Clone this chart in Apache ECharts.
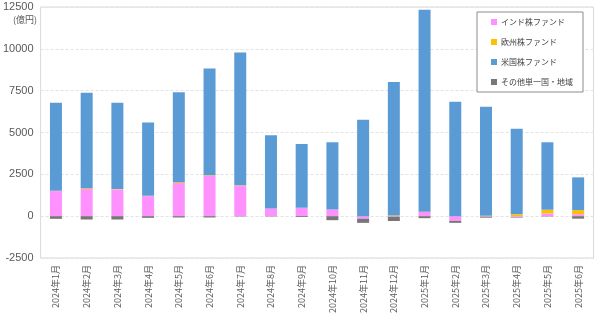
<!DOCTYPE html>
<html>
<head>
<meta charset="utf-8">
<script src="https://cdn.jsdelivr.net/npm/echarts@6/dist/echarts.min.js"></script>
<style>
  html, body { margin: 0; padding: 0; background: #fff; }
  #chart { width: 600px; height: 324px; }
</style>
</head>
<body>
<div id="chart"></div>
<script>
// Monthly net fund flows by region (億円)
const months = [
  '2024年1月', '2024年2月', '2024年3月', '2024年4月', '2024年5月', '2024年6月',
  '2024年7月', '2024年8月', '2024年9月', '2024年10月', '2024年11月', '2024年12月',
  '2025年1月', '2025年2月', '2025年3月', '2025年4月', '2025年5月', '2025年6月'
];
const india  = [1500, 1620, 1600, 1200, 1980, 2420, 1820, 460, 500, 400, -150, -30, 250, -280, -30, -60, 160, 120];
const europe = [20, 50, 20, 20, 50, 30, 30, 0, 0, 0, 0, 40, 20, 0, 20, 110, 220, 240];
const usa    = [5260, 5700, 5160, 4380, 5370, 6370, 7930, 4380, 3820, 4020, 5760, 7980, 12070, 6840, 6520, 5110, 4040, 1960];
const others = [-160, -200, -200, -100, -80, -80, -20, -20, -50, -240, -250, -260, -120, -120, -60, -30, -20, -150];

const yTicks = { min: -2500, max: 12500, interval: 2500 };

const chart = echarts.init(document.getElementById('chart'));

const mkSeries = (name, data, color) => ({
  name, type: 'bar', stack: 'flow', data,
  barWidth: 12,
  itemStyle: { color },
  emphasis: { disabled: true }
});

chart.setOption({
  animation: false,
  textStyle: { fontFamily: '"Noto Sans CJK JP", "Noto Sans", sans-serif' },
  grid: { left: 40.5, right: 6.5, top: 7, bottom: 66, show: true, borderColor: '#d9d9d9', borderWidth: 1 },
  legend: {
    orient: 'vertical',
    right: 17, top: 12,
    width: 108,
    padding: [6, 10, 6, 14],
    itemGap: 12,
    itemWidth: 6, itemHeight: 6,
    icon: 'rect',
    backgroundColor: '#fff',
    borderColor: '#8c8c8c', borderWidth: 1,
    textStyle: { fontSize: 8, lineHeight: 8, color: '#404040', padding: [0, 0, 0, -1] },
    data: ['インド株ファンド', '欧州株ファンド', '米国株ファンド', 'その他単一国・地域']
  },
  graphic: [{
    type: 'text', left: 13, top: 15,
    style: { text: '(億円)', fill: '#595959', font: '9px "Noto Sans CJK JP", sans-serif' }
  }],
  xAxis: {
    type: 'category',
    data: months,
    axisLine: { show: false },
    axisTick: { show: false },
    axisLabel: { rotate: 90, fontSize: 9, color: '#595959', interval: 0, margin: 7 }
  },
  yAxis: {
    type: 'value',
    min: yTicks.min, max: yTicks.max, interval: yTicks.interval,
    axisLine: { show: false },
    axisTick: { show: false },
    axisLabel: {
      fontSize: 11, color: '#595959', margin: 7, fontFamily: '"Liberation Sans", sans-serif',
      formatter: v => String(v)
    },
    splitLine: { lineStyle: { color: '#e3e3e3', type: [3, 2] } }
  },
  series: [
    mkSeries('インド株ファンド', india, '#ff91ff'),
    mkSeries('欧州株ファンド', europe, '#ffc000'),
    mkSeries('米国株ファンド', usa, '#5b9bd5'),
    mkSeries('その他単一国・地域', others, '#777777')
  ]
});
</script>
</body>
</html>
